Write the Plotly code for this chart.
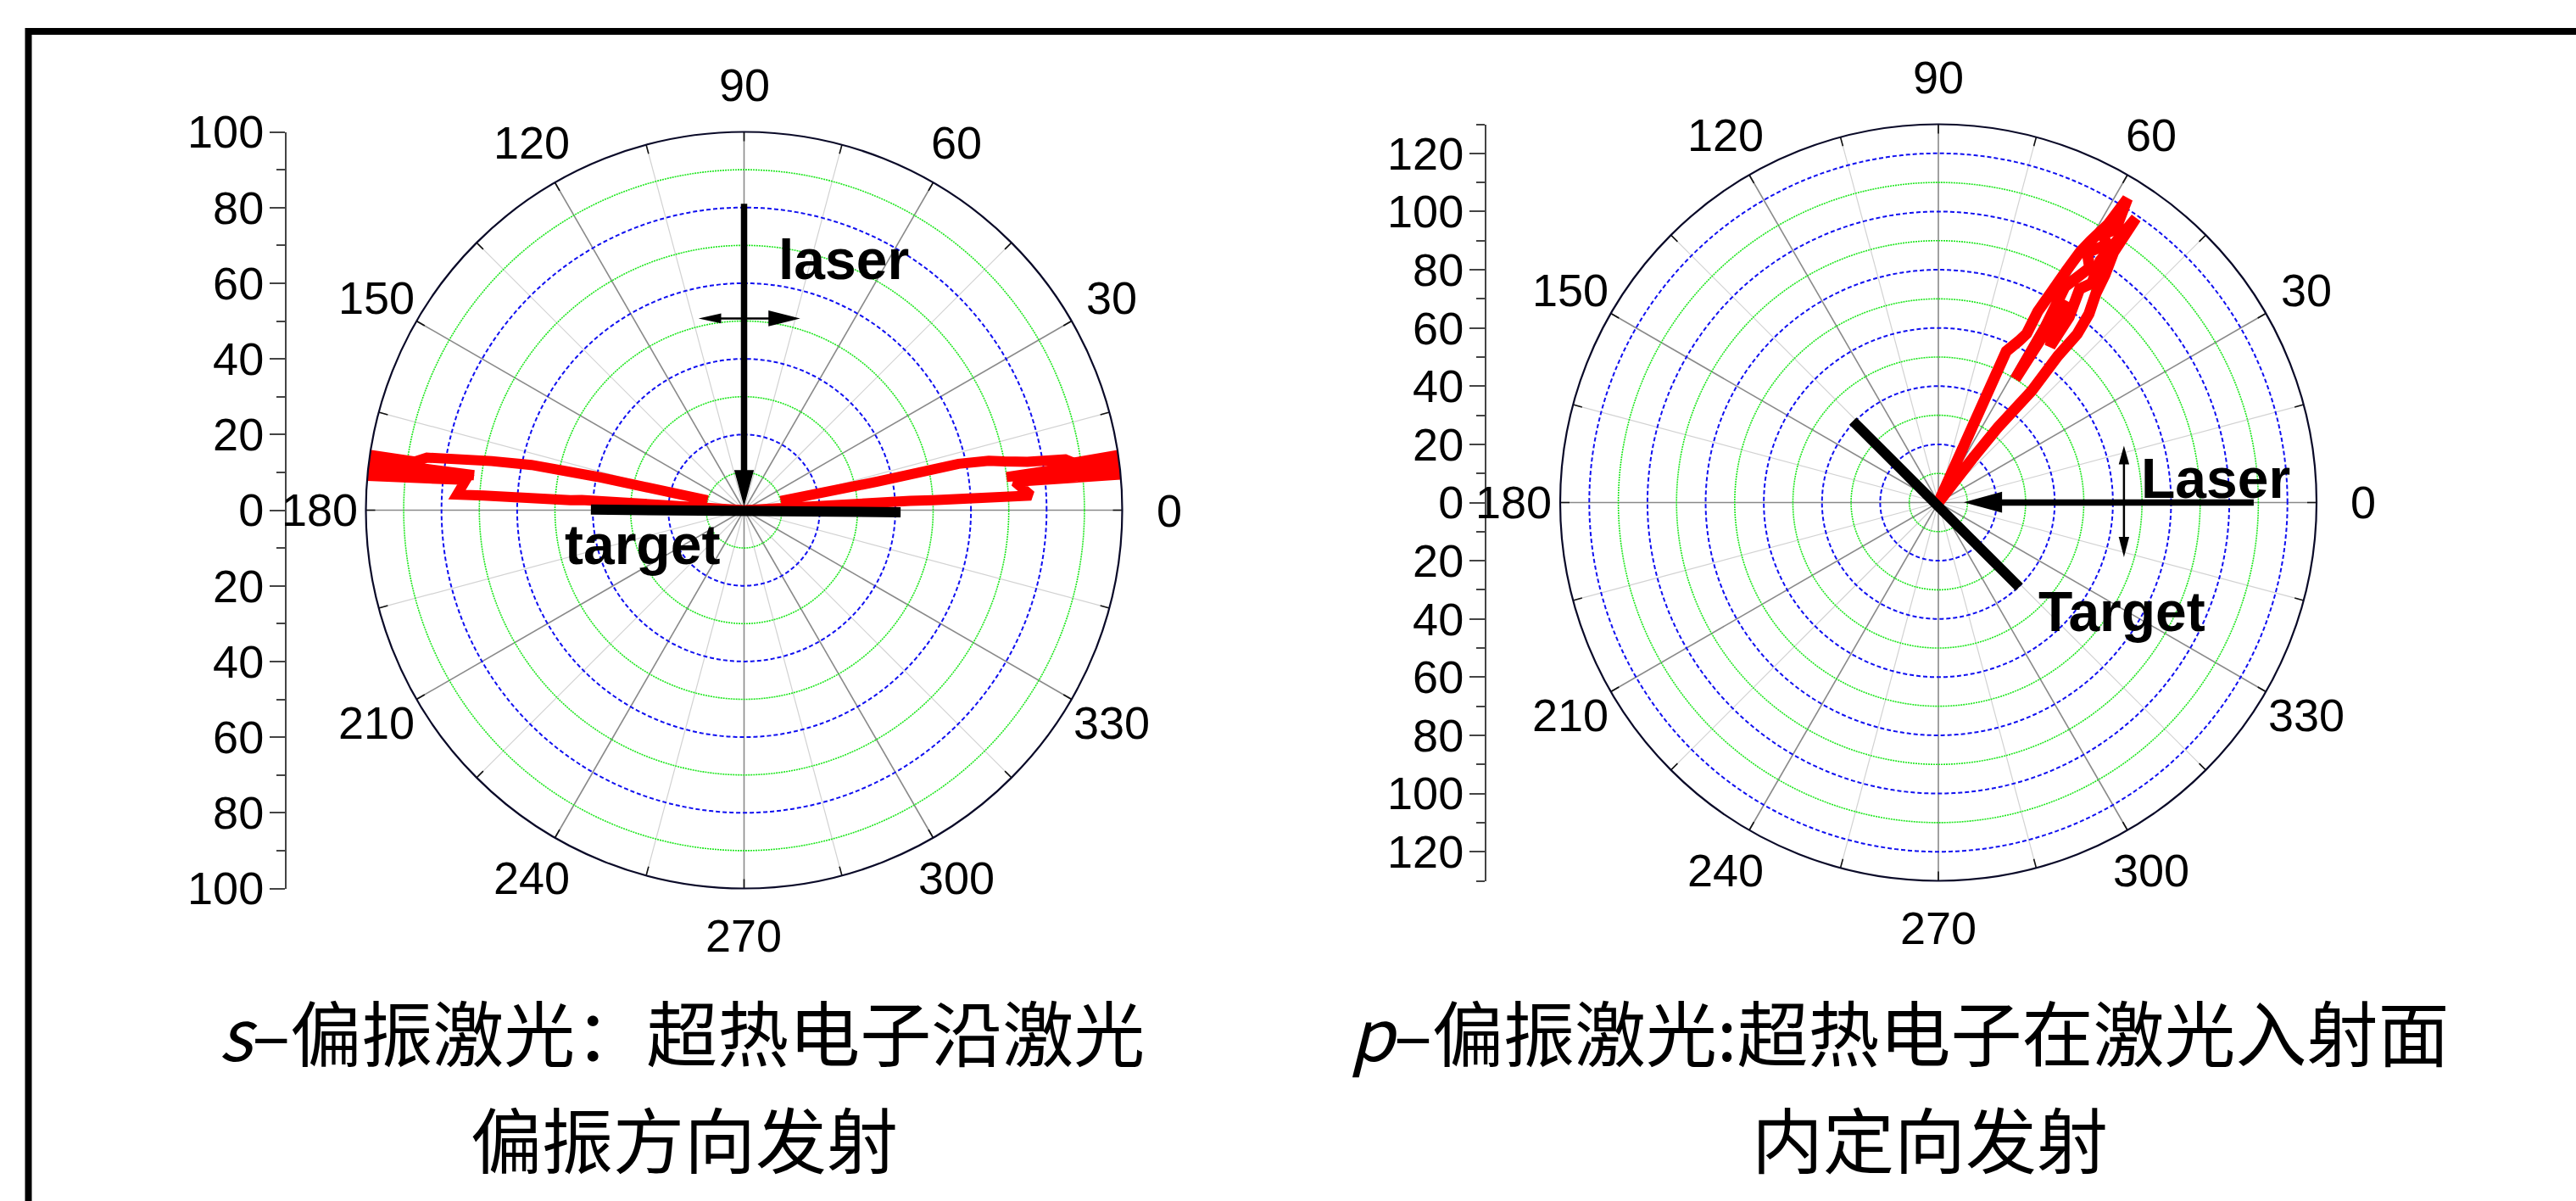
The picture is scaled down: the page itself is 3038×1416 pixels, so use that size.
import numpy as np
import plotly.graph_objects as go

W, H = 3038, 1416

# ---------------- measured angular distributions ----------------
# s-polarised laser: two lobes along the polarisation direction (deg, signal)
s_lobe0_theta = [0, 3.2, 3.0, 2.9, 6.0, 5.4, 6.2, 6.6, 7.2, 7.6, 8.4, 8.2, 9.0, 9.7, 10.6, 11.4, 12.2, 12.1, 14.2]
s_lobe0_r = [0, 44, 50, 76, 72, 100, 80, 100, 70, 100, 100, 88, 86, 76, 70, 66, 58, 36, 10]
s_lobe180_theta = [0, 176.4, 176.7, 176.8, 176.9, 173.8, 174.8, 173.6, 173.6, 172.6, 172.6, 171.6,
                   171.6, 170.6, 169.0, 168.0, 167.2, 164.9]
s_lobe180_r = [0, 43, 46, 69, 76, 74, 100, 80, 100, 72, 100, 100, 88, 85, 68, 57.5, 40, 10]

# p-polarised laser: emission inside the plane of incidence (deg, signal)
p_lobe_theta = [0, 52.2, 51.6, 50.1, 50.8, 50.5, 51.4, 53.0, 53.8, 55.0, 55.2, 56.2, 55.0, 56.5,
                54.8, 54.4, 56.8, 57.8, 58.1, 58.6, 59.6, 57.2, 59.2, 56.8, 58.5, 57.0, 58.1, 58.6,
                59.8, 60.5, 61.1, 61.7, 62.5, 62.4, 63.5, 65.8, 0]
p_lobe_r = [0, 19, 33, 50, 65, 75, 83, 90, 97, 105, 119, 100, 92, 88,
            78, 66, 74, 82, 50, 70, 86, 96, 100, 106, 108, 112, 123, 112,
            104, 99, 91, 82.5, 74, 65.5, 62, 57, 0]

# ---------------- scales and tick labels ----------------
s_rmax = 100
p_rmax = 130
angle_ticks = list(range(0, 360, 15))
angle_labels = [str(a) if a % 30 == 0 else "" for a in angle_ticks]
major_spokes = list(range(0, 360, 30))
minor_spokes = list(range(15, 360, 30))
s_green_rings = [10, 30, 50, 70, 90]
s_blue_rings = [20, 40, 60, 80]
p_green_rings = [10, 30, 50, 70, 90, 110]
p_blue_rings = [20, 40, 60, 80, 100, 120]
s_radial_ticks = list(range(-100, 101, 20))
p_radial_ticks = list(range(-120, 121, 20))

s_caption = ["<i>s</i>–偏振激光：超热电子沿激光", "偏振方向发射"]
p_caption = ["<i>p</i>–偏振激光:超热电子在激光入射面", "内定向发射"]

# ---------------- panel geometry (pixels) ----------------
R_PX = 446
S_CENTER = (877.5, 601.5)
P_CENTER = (2286.0, 592.5)
S_AXIS_X = 337
P_AXIS_X = 1752
RIM_TICK_PX = 11
ANGLE_LABEL_PX = 501

TICK_FONT = dict(family="Liberation Sans, Arial", size=54, color="black")
LABEL_FONT = dict(family="Liberation Sans, Arial", size=66, color="black", weight="bold")
CJK_FONT = dict(family="Noto Sans CJK SC", size=84, color="black")


def domains(center):
    cx, cy = center
    xd = [(cx - R_PX) / W, (cx + R_PX) / W]
    yd = [1 - (cy + R_PX) / H, 1 - (cy - R_PX) / H]
    return xd, yd


s_xd, s_yd = domains(S_CENTER)
p_xd, p_yd = domains(P_CENTER)

fig = go.Figure()


def spokes(angles, r0, r1, color, width, subplot):
    th, rr = [], []
    for a in angles:
        th += [a, a, None]
        rr += [r0, r1, None]
    return go.Scatterpolar(theta=th, r=rr, mode="lines", subplot=subplot,
                           line=dict(color=color, width=width),
                           hoverinfo="skip", showlegend=False)


def rings(radii, color, dash, width, subplot):
    circle = list(np.linspace(0, 360, 721))
    th, rr = [], []
    for r in radii:
        th += circle + [None]
        rr += [r] * len(circle) + [None]
    return go.Scatterpolar(theta=th, r=rr, mode="lines", subplot=subplot,
                           line=dict(color=color, width=width, dash=dash),
                           hoverinfo="skip", showlegend=False)


for sub, rmax, greens, blues in [("polar", s_rmax, s_green_rings, s_blue_rings),
                                  ("polar2", p_rmax, p_green_rings, p_blue_rings)]:
    fig.add_trace(spokes(minor_spokes, 0, rmax, "#d2d2d2", 1.2, sub))
    fig.add_trace(spokes(major_spokes, 0, rmax, "#8a8a8a", 1.6, sub))
    fig.add_trace(rings(greens, "#1ee61e", "2px,1px", 1.6, sub))
    fig.add_trace(rings(blues, "#1010f0", "5px,3px", 2.0, sub))
    # short inward ticks on the rim
    fig.add_trace(spokes(angle_ticks, rmax * (1 - RIM_TICK_PX / R_PX), rmax, "#111", 1.6, sub))

for th, rr, sub, w in [(s_lobe0_theta, s_lobe0_r, "polar", 12),
                       (s_lobe180_theta, s_lobe180_r, "polar", 12),
                       (p_lobe_theta, p_lobe_r, "polar2", 13)]:
    fig.add_trace(go.Scatterpolar(theta=th, r=rr, mode="lines", subplot=sub,
                                  line=dict(color="#ff0000", width=w),
                                  cliponaxis=False, showlegend=False))

# invisible carriers for the cartesian overlays (radial scales + sketch items)
fig.add_trace(go.Scatter(x=[0], y=[0], mode="markers", marker=dict(opacity=0),
                         xaxis="x", yaxis="y", hoverinfo="skip", showlegend=False))
fig.add_trace(go.Scatter(x=[0], y=[0], mode="markers", marker=dict(opacity=0),
                         xaxis="x2", yaxis="y2", hoverinfo="skip", showlegend=False))


def polar_cfg(xd, yd, rmax):
    return dict(
        domain=dict(x=xd, y=yd),
        bgcolor="white",
        radialaxis=dict(range=[0, rmax], visible=False),
        angularaxis=dict(direction="counterclockwise", rotation=0,
                         tickmode="array", tickvals=angle_ticks,
                         ticks="", showticklabels=False,
                         showgrid=False, showline=True, linecolor="#0a0a28", linewidth=2.2),
    )


def radial_scale(yd, rmax, ticks, pos_px):
    return dict(domain=yd, range=[-rmax, rmax], anchor="free", position=pos_px / W,
                showline=True, linecolor="#444", linewidth=2,
                tickmode="array", tickvals=ticks, ticktext=[str(abs(v)) for v in ticks],
                ticks="outside", ticklen=18, tickwidth=1.6, tickcolor="#444",
                minor=dict(tickmode="linear", tick0=0, dtick=10, ticks="outside",
                           ticklen=10, tickwidth=1.6, tickcolor="#444"),
                showgrid=False, zeroline=False, tickfont=TICK_FONT,
                ticklabelstandoff=-4, fixedrange=True, automargin=False)


def head(tip, direction, length, half_w):
    tx, ty = tip
    dx, dy = direction
    n = (dx * dx + dy * dy) ** 0.5
    dx, dy = dx / n, dy / n
    bx, by = tx - dx * length, ty - dy * length
    px, py = -dy, dx
    return (f"M{tx},{ty} L{bx + px * half_w},{by + py * half_w} "
            f"L{bx - px * half_w},{by - py * half_w} Z")


shapes = []


def line(x0, y0, x1, y1, width, xr, yr):
    shapes.append(dict(type="line", x0=x0, y0=y0, x1=x1, y1=y1, xref=xr, yref=yr,
                       line=dict(color="black", width=width), layer="above"))


def arrowhead(tip, direction, length, half_w, xr, yr):
    shapes.append(dict(type="path", path=head(tip, direction, length, half_w), xref=xr, yref=yr,
                       fillcolor="black", line=dict(width=0), layer="above"))


# s-panel: laser incidence (thick arrow), polarisation (thin double arrow), target
line(-40.5, 0.15, 41.4, -0.56, 12, "x", "y")
line(0, 81, 0, 8, 7.5, "x", "y")
arrowhead((0, 1.0), (0, -1), 9.6, 2.6, "x", "y")
line(-10, 50.7, 12, 50.7, 2.5, "x", "y")
arrowhead((-12.05, 50.7), (-1, 0), 6.0, 1.3, "x", "y")
arrowhead((14.85, 50.7), (1, 0), 8.4, 2.1, "x", "y")

# p-panel: laser along 0 deg, polarisation in the plane, target at 45 deg
line(-29.4, 28.0, 27.8, -29.1, 12, "x2", "y2")
line(108.4, 0, 19, 0, 7.5, "x2", "y2")
arrowhead((8.7, 0.1), (-1, 0), 13.2, 3.6, "x2", "y2")
line(63.8, 14, 63.8, -13, 2.5, "x2", "y2")
arrowhead((63.8, 19.5), (0, 1), 6.4, 1.8, "x2", "y2")
arrowhead((63.8, -18.8), (0, -1), 7.0, 1.8, "x2", "y2")

# outer frame
shapes.append(dict(type="line", xref="paper", yref="paper", x0=30 / W, x1=1.0,
                   y0=1 - 37 / H, y1=1 - 37 / H, line=dict(color="black", width=8)))
shapes.append(dict(type="line", xref="paper", yref="paper", x0=33.5 / W, x1=33.5 / W,
                   y0=1 - 33 / H, y1=0, line=dict(color="black", width=8)))

CENTRED = dict(showarrow=False, xanchor="center", yanchor="middle")
annotations = []

# angle labels just outside each rim (paper coordinates from the panel geometry)
for cx, cy in [S_CENTER, P_CENTER]:
    for a, txt in zip(angle_ticks, angle_labels):
        if txt:
            t = np.deg2rad(a)
            annotations.append(dict(text=txt,
                                    x=(cx + ANGLE_LABEL_PX * np.cos(t)) / W,
                                    y=1 - (cy - ANGLE_LABEL_PX * np.sin(t)) / H,
                                    xref="paper", yref="paper", font=TICK_FONT, **CENTRED))

annotations += [
    dict(text="laser", x=26.3, y=66.3, xref="x", yref="y", font=LABEL_FONT, **CENTRED),
    dict(text="target", x=-26.8, y=-9.1, xref="x", yref="y", font=LABEL_FONT, **CENTRED),
    dict(text="Laser", x=95.3, y=8.3, xref="x2", yref="y2", font=LABEL_FONT, **CENTRED),
    dict(text="Target", x=63.0, y=-37.5, xref="x2", yref="y2", font=LABEL_FONT, **CENTRED),
]

# two-line captions under each panel
CAPTION_ROWS_PX = (1214, 1340)
for lines_, xs in [(s_caption, (804, 807)), (p_caption, (2240, 2276))]:
    for txt, xpx, ypx in zip(lines_, xs, CAPTION_ROWS_PX):
        annotations.append(dict(text=txt, x=xpx / W, y=1 - ypx / H,
                                xref="paper", yref="paper", font=CJK_FONT, **CENTRED))

fig.update_layout(
    width=W, height=H,
    margin=dict(l=0, r=0, t=0, b=0, autoexpand=False),
    paper_bgcolor="white", plot_bgcolor="rgba(0,0,0,0)",
    showlegend=False,
    polar=polar_cfg(s_xd, s_yd, s_rmax),
    polar2=polar_cfg(p_xd, p_yd, p_rmax),
    xaxis=dict(domain=s_xd, range=[-s_rmax, s_rmax], visible=False, anchor="y", fixedrange=True),
    yaxis=radial_scale(s_yd, s_rmax, s_radial_ticks, S_AXIS_X),
    xaxis2=dict(domain=p_xd, range=[-p_rmax, p_rmax], visible=False, anchor="y2", fixedrange=True),
    yaxis2=radial_scale(p_yd, p_rmax, p_radial_ticks, P_AXIS_X),
    shapes=shapes,
    annotations=annotations,
)

fig.write_html("out.html")
